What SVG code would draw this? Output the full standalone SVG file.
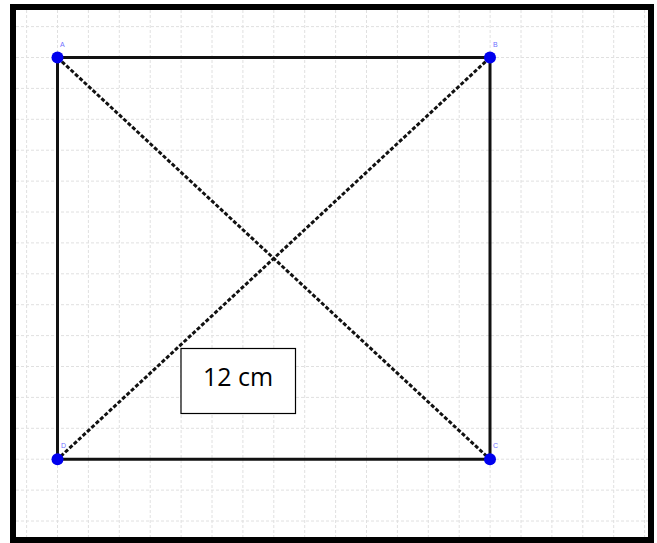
<svg xmlns="http://www.w3.org/2000/svg" width="657" height="543" viewBox="0 0 657 543">
<defs>
<style>
.grid line{stroke:#e0e0e0;stroke-width:1;stroke-dasharray:3 2}
.side{stroke:#111;stroke-width:3;fill:none}
.diag{stroke:#111;stroke-width:3;stroke-dasharray:4 2;fill:none}
.pt{fill:#0000ee}
.lbl{font-family:"Liberation Sans",Arial,sans-serif;font-size:7px;fill:#7070ff}
</style>
</defs>
<rect x="0" y="0" width="657" height="543" fill="#fff"/>
<g class="grid">
<line x1="26.6" y1="10" x2="26.6" y2="538"/>
<line x1="57.5" y1="10" x2="57.5" y2="538"/>
<line x1="88.4" y1="10" x2="88.4" y2="538"/>
<line x1="119.3" y1="10" x2="119.3" y2="538"/>
<line x1="150.2" y1="10" x2="150.2" y2="538"/>
<line x1="181.1" y1="10" x2="181.1" y2="538"/>
<line x1="212" y1="10" x2="212" y2="538"/>
<line x1="242.9" y1="10" x2="242.9" y2="538"/>
<line x1="273.8" y1="10" x2="273.8" y2="538"/>
<line x1="304.7" y1="10" x2="304.7" y2="538"/>
<line x1="335.6" y1="10" x2="335.6" y2="538"/>
<line x1="366.5" y1="10" x2="366.5" y2="538"/>
<line x1="397.4" y1="10" x2="397.4" y2="538"/>
<line x1="428.3" y1="10" x2="428.3" y2="538"/>
<line x1="459.2" y1="10" x2="459.2" y2="538"/>
<line x1="490.1" y1="10" x2="490.1" y2="538"/>
<line x1="521" y1="10" x2="521" y2="538"/>
<line x1="551.9" y1="10" x2="551.9" y2="538"/>
<line x1="582.8" y1="10" x2="582.8" y2="538"/>
<line x1="613.7" y1="10" x2="613.7" y2="538"/>
<line x1="644.6" y1="10" x2="644.6" y2="538"/>
<line x1="16" y1="26.6" x2="648" y2="26.6"/>
<line x1="16" y1="57.5" x2="648" y2="57.5"/>
<line x1="16" y1="88.4" x2="648" y2="88.4"/>
<line x1="16" y1="119.3" x2="648" y2="119.3"/>
<line x1="16" y1="150.2" x2="648" y2="150.2"/>
<line x1="16" y1="181.1" x2="648" y2="181.1"/>
<line x1="16" y1="212" x2="648" y2="212"/>
<line x1="16" y1="242.9" x2="648" y2="242.9"/>
<line x1="16" y1="273.8" x2="648" y2="273.8"/>
<line x1="16" y1="304.7" x2="648" y2="304.7"/>
<line x1="16" y1="335.6" x2="648" y2="335.6"/>
<line x1="16" y1="366.5" x2="648" y2="366.5"/>
<line x1="16" y1="397.4" x2="648" y2="397.4"/>
<line x1="16" y1="428.3" x2="648" y2="428.3"/>
<line x1="16" y1="459.2" x2="648" y2="459.2"/>
<line x1="16" y1="490.1" x2="648" y2="490.1"/>
<line x1="16" y1="521" x2="648" y2="521"/>
</g>
<rect x="13" y="7" width="638" height="533" fill="none" stroke="#000" stroke-width="6"/>
<g id="connectors">
<line class="side" x1="57.5" y1="57.5" x2="490" y2="57.5"/>
<line class="side" x1="490" y1="57.5" x2="490" y2="459.3"/>
<line class="side" x1="490" y1="459.3" x2="57.5" y2="459.3"/>
<line class="side" x1="57.5" y1="459.3" x2="57.5" y2="57.5"/>
<line class="diag" x1="57.5" y1="57.5" x2="490" y2="459.3"/>
<line class="diag" x1="490" y1="57.5" x2="57.5" y2="459.3"/>
</g>
<g id="A"><circle class="pt" cx="57.5" cy="57.5" r="6"/><text class="lbl" x="60" y="47">A</text></g>
<g id="B"><circle class="pt" cx="490" cy="57.5" r="6"/><text class="lbl" x="493" y="47">B</text></g>
<g id="C"><circle class="pt" cx="490" cy="459.3" r="6"/><text class="lbl" x="493" y="448">C</text></g>
<g id="D"><circle class="pt" cx="57.5" cy="459.3" r="6"/><text class="lbl" x="61" y="448">D</text></g>
<g id="label">
<rect x="181" y="348.5" width="114.5" height="65" fill="#fff" stroke="#000" stroke-width="1.2"/>
<text x="238" y="386" text-anchor="middle" font-family="'Open Sans','Liberation Sans',sans-serif" font-size="25" fill="#000">12 cm</text>
</g>
</svg>
